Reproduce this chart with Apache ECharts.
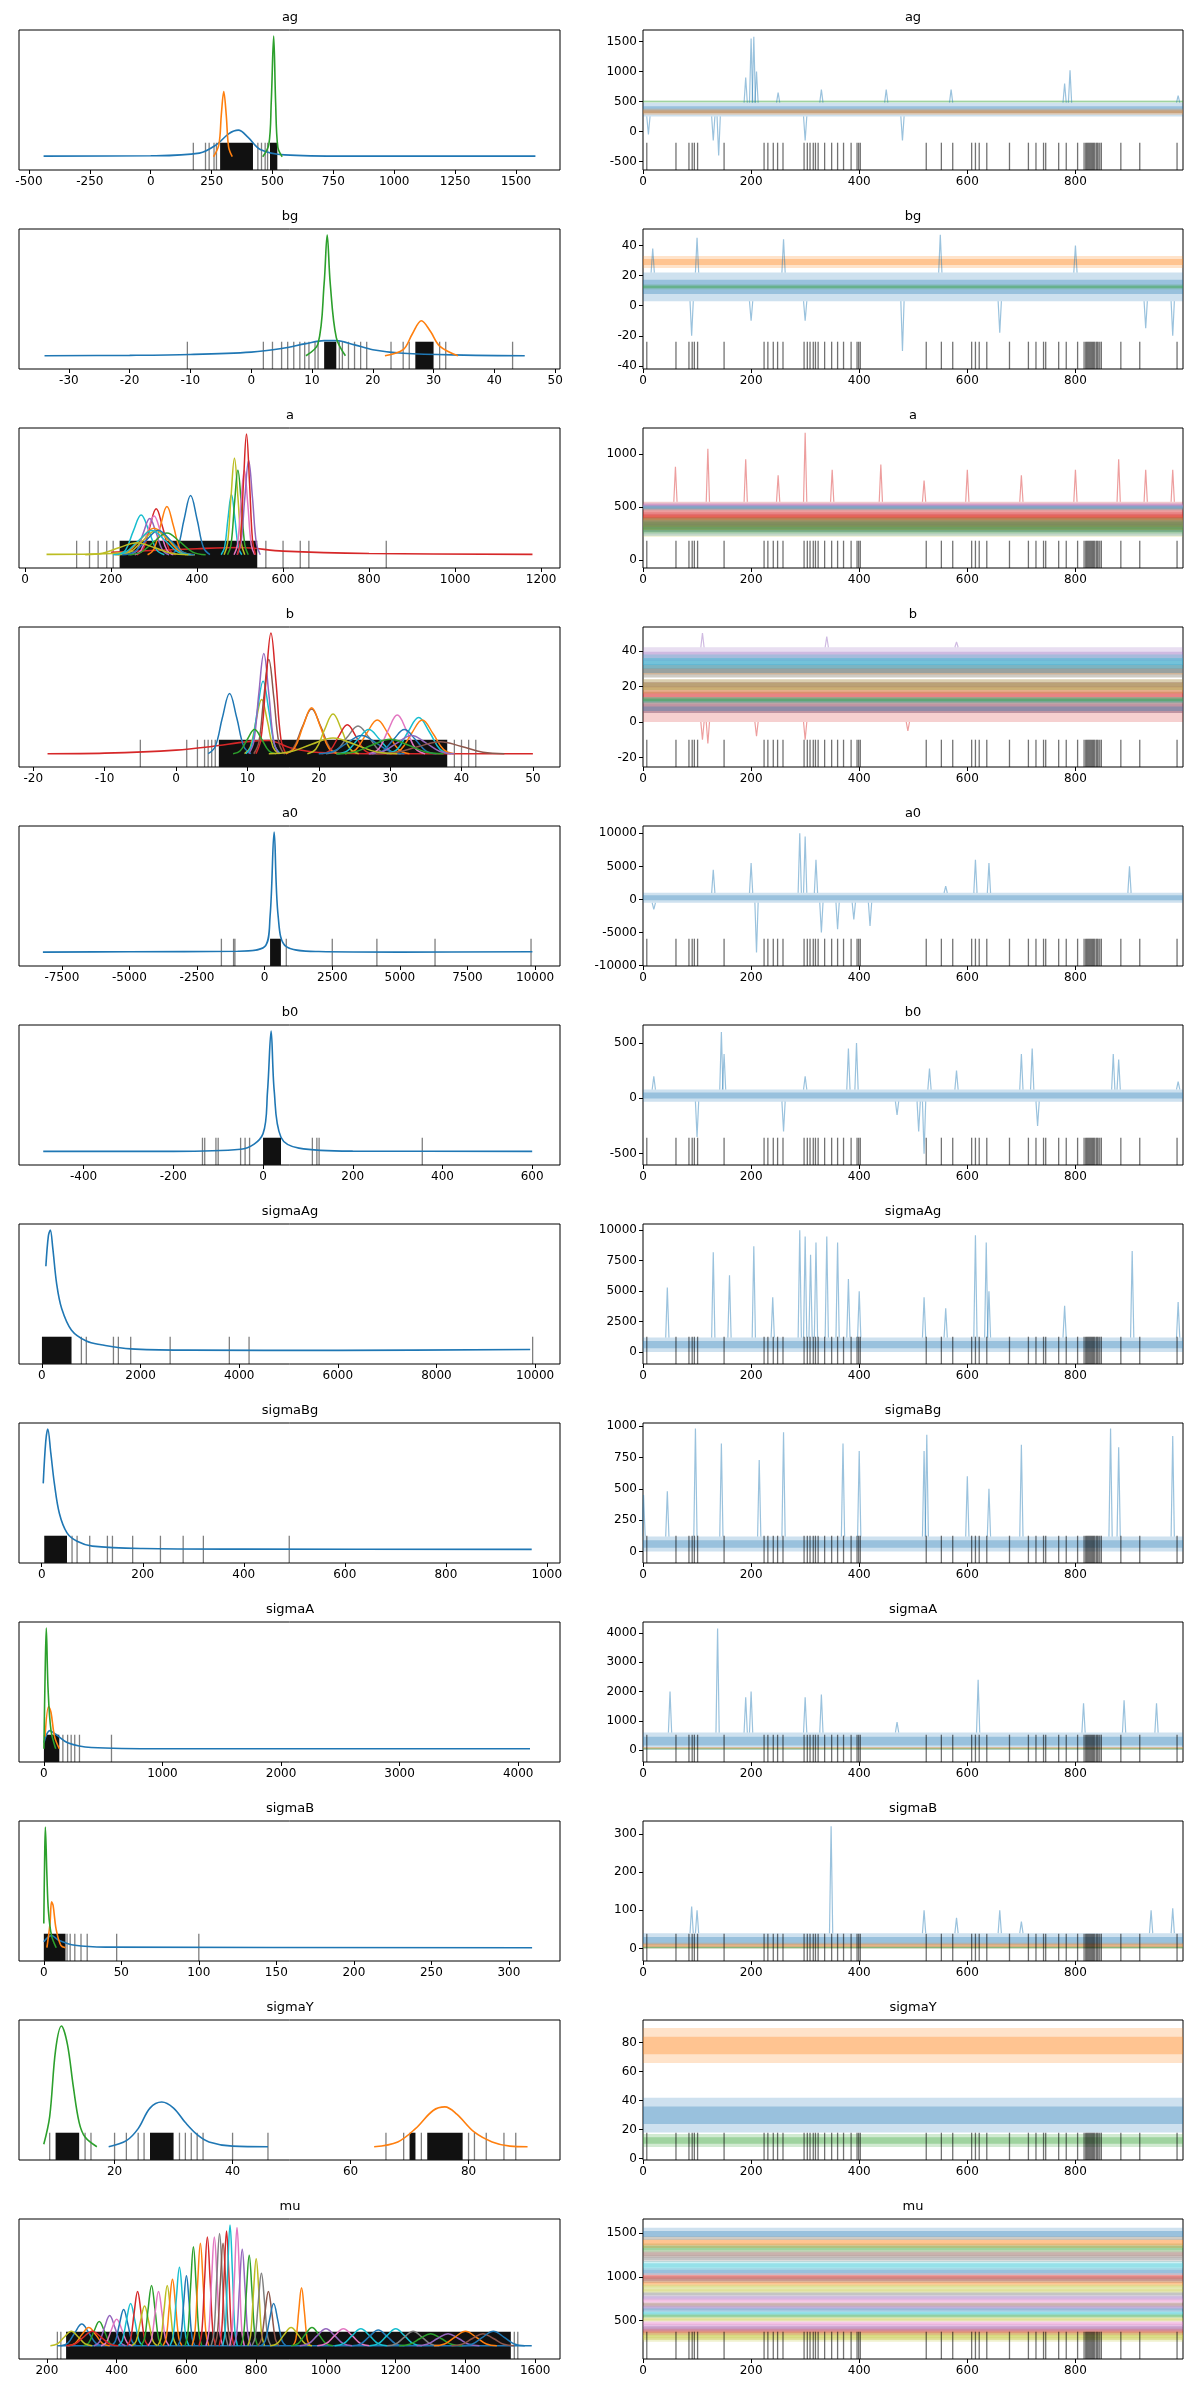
<!DOCTYPE html>
<html><head><meta charset="utf-8">
<script src="https://cdn.jsdelivr.net/npm/echarts@6/dist/echarts.min.js"></script>
<style>html,body{margin:0;padding:0;background:#fff}#c{width:1187px;height:2390px}</style>
</head><body><div id="c"></div>
<script>
const C = ['#1f77b4','#ff7f0e','#2ca02c','#d62728','#9467bd','#8c564b','#e377c2','#7f7f7f','#bcbd22','#17becf'];
const names = ['ag','bg','a','b','a0','b0','sigmaAg','sigmaBg','sigmaA','sigmaB','sigmaY','mu'];
const divergences = [7,61,85,91,95,101,150,224,231,241,249,259,298,304,309,315,319,324,336,349,360,371,385,396,399,402,524,552,573,608,615,622,636,678,713,727,741,745,769,783,804,816,819,821,823,825,827,829,831,833,835,838,840,842,845,848,884,919,988];
const traceTicks = [0,200,400,600,800];

const agKde = [[0,[[-440,0.005],[0,0.008],[200,0.03],[270,0.1],[320,0.19],[360,0.22],[400,0.16],[450,0.06],[550,0.015],[800,0.005],[1580,0.005]]],
  [1,[[258,0],[280,0.1],[290,0.35],[300,0.54],[310,0.35],[320,0.08],[335,0]]],
  [2,[[460,0],[485,0.1],[495,0.45],[505,1],[513,0.45],[522,0.08],[540,0]]]];
const agRugBlocks = [[285,420],[490,520]];
const agRug = [175,225,240,260,270,440,455,470,480];
const bgKde = [[0,[[-34,0],[-20,0.003],[-10,0.01],[0,0.03],[5,0.06],[9,0.1],[12,0.125],[14,0.125],[17,0.09],[20,0.05],[25,0.02],[35,0.005],[45,0]]],
  [2,[[9,0],[11,0.1],[12,0.6],[12.5,1],[13,0.6],[14,0.15],[15.5,0]]],
  [1,[[22,0],[25,0.05],[26.5,0.18],[28,0.29],[29.5,0.2],[31,0.08],[34,0]]]];
const bgRugBlocks = [[12,14],[27,30]];
const bgRug = [-10.5,2,3.5,5,6,7,8,8.8,9.5,10.5,11,14.5,15,16,17,18,19,23,25,26,31,32,43];
const aPeaks = [[0,385,0.49,15],[9,270,0.33,18],[3,305,0.38,15],[1,330,0.4,15],[6,300,0.32,15],[4,290,0.3,15],
  [1,300,0.22,30],[8,305,0.2,30],[2,330,0.18,30],[0,310,0.2,28],[9,295,0.2,30],[8,260,0.1,40],
  [9,480,0.5,8],[8,487,0.8,8],[2,495,0.7,8],[6,510,0.7,8],[4,520,0.78,9],[3,515,1.0,7]];
const aKde = [[3,[[200,0.02],[400,0.05],[500,0.06],[600,0.03],[800,0.01],[1180,0.003]]],[8,[[50,0.003],[200,0.01],[250,0.03]]]];
const aRugBlocks = [[220,540]];
const aRug = [120,150,170,190,205,560,600,640,660,840];
const bPeaks = [[0,7.5,0.5,1],[8,12,0.45,0.8],[9,12.2,0.6,0.8],[4,12.3,0.83,0.7],[5,13,0.78,0.7],[3,13.3,1.0,0.7],[2,11,0.2,1],
  [5,19,0.37,1.3],[1,19,0.38,1.2],[8,22,0.33,1.2],[7,25.5,0.23,1.5],[3,24,0.24,1.2],[1,28.2,0.28,1.5],[9,27,0.2,1.5],[0,26,0.15,2],
  [6,31,0.32,1.3],[9,34,0.3,1.5],[1,34.5,0.28,1.5],[0,32,0.2,1.5],[4,33,0.15,2],[5,37,0.1,3],[8,22,0.13,3],[2,30,0.12,2.5]];
const bKde = [[3,[[-18,0],[-10,0.005],[0,0.03],[5,0.06],[10,0.1],[13,0.11],[16,0.05],[20,0.01],[30,0],[50,0]]]];
const bRugBlocks = [[6,38]];
const bRug = [-5,1.5,3,4,4.5,5,5.5,39,40,41,42];
const a0Kde = [[0,[[-8200,0.005],[-5000,0.008],[-1000,0.012],[0,0.05],[200,0.3],[350,1.0],[500,0.3],[800,0.05],[2000,0.01],[5000,0.005],[9900,0.008]]]];
const a0RugBlocks = [[200,600]];
const a0Rug = [-1600,-1150,-1100,800,2500,4150,6300,9850];
const b0Kde = [[0,[[-490,0.003],[-200,0.003],[-50,0.02],[0,0.15],[10,0.5],[18,1.0],[25,0.5],[40,0.12],[80,0.03],[200,0.005],[600,0.003]]]];
const b0RugBlocks = [[0,40]];
const b0Rug = [-135,-130,-105,-100,-50,-40,-30,110,120,125,355];
const sigmaAgKde = [[0,[[80,0.7],[130,0.95],[170,1.0],[220,0.85],[300,0.55],[400,0.35],[600,0.17],[900,0.08],[1200,0.05],[1800,0.015],[3000,0.005],[6000,0.003],[9900,0.01]]]];
const sigmaAgRugBlocks = [[0,600]];
const sigmaAgRug = [800,900,1450,1550,1800,2600,3800,4200,9950];
const sigmaBgKde = [[0,[[3,0.55],[8,0.9],[12,1.0],[18,0.8],[25,0.55],[35,0.3],[50,0.14],[70,0.07],[100,0.03],[200,0.01],[400,0.005],[970,0.003]]]];
const sigmaBgRugBlocks = [[5,50]];
const sigmaBgRug = [60,70,95,130,140,180,235,280,320,490];
const sigmaAKde = [[0,[[0,0.05],[50,0.15],[100,0.12],[200,0.05],[400,0.01],[1000,0],[4100,0]]],
  [1,[[10,0.1],[40,0.35],[60,0.3],[90,0.1],[130,0]]],
  [2,[[0,0],[10,0.6],[20,1.0],[35,0.5],[60,0.15],[100,0]]]];
const sigmaARugBlocks = [[0,130]];
const sigmaARug = [160,200,230,260,300,570];
const sigmaBKde = [[0,[[0,0.05],[5,0.1],[10,0.06],[20,0.02],[40,0.005],[315,0]]],
  [1,[[2,0],[4,0.2],[5,0.38],[6,0.35],[8,0.15],[11,0.02],[14,0]]],
  [2,[[0,0.2],[0.5,0.7],[1,1.0],[2,0.6],[3,0.3],[5,0.1],[8,0]]]];
const sigmaBRugBlocks = [[0,14]];
const sigmaBRug = [15,17,20,24,28,47,100];
const sigmaYKde = [[2,[[8,0.02],[9,0.25],[10,0.8],[11,1.0],[12,0.85],[13,0.5],[14,0.2],[15,0.08],[17,0]]],
  [0,[[19,0],[22,0.05],[24,0.15],[26,0.32],[28,0.37],[30,0.32],[32,0.2],[34,0.1],[36,0.04],[40,0.005],[46,0]]],
  [1,[[64,0],[68,0.04],[71,0.15],[74,0.3],[76,0.33],[78,0.27],[81,0.12],[84,0.04],[87,0.005],[90,0]]]];
const sigmaYRugBlocks = [[10,14],[26,30],[70,71],[73,79]];
const sigmaYRug = [9,15,16,20,22,24,25,31,32,33,34,35,40,46,66,69,72,80,81,83,86,88];
const muPeaks = [[0,300,0.18,20],[1,320,0.15,20],[2,350,0.2,15],[4,380,0.25,15],[6,400,0.22,15],[0,420,0.3,12],[9,440,0.35,12],[3,460,0.45,10],
  [8,480,0.33,12],[2,500,0.5,10],[6,520,0.45,10],[8,545,0.5,9],[1,560,0.55,9],[9,580,0.65,9],[0,600,0.58,8],[2,620,0.82,8],[1,640,0.85,8],
  [3,660,0.9,8],[6,680,0.9,8],[7,695,0.93,8],[5,705,0.85,8],[3,715,0.95,7],[9,725,1.0,7],[6,745,0.98,7],[4,760,0.8,8],[2,780,0.75,8],
  [8,800,0.72,8],[7,815,0.6,9],[5,835,0.45,10],[0,850,0.35,12],[1,930,0.48,8],[8,900,0.15,20],[2,960,0.15,20],[4,1000,0.14,25],
  [6,1050,0.14,25],[9,1100,0.14,25],[0,1150,0.13,25],[9,1200,0.14,25],[7,1250,0.12,25],[2,1300,0.1,30],[4,1350,0.1,30],[1,1400,0.12,30],
  [5,1450,0.1,30],[0,1480,0.12,30],[8,270,0.12,20],[3,330,0.12,25]];
const muKde = [[0,[[230,0],[1590,0]]]];
const muRugBlocks = [[255,1530]];
const muRug = [230,240,1540,1550];
const bellShape = [[-3,0],[-2,0.12],[-1,0.6],[0,1],[1,0.6],[2,0.12],[3,0]];

const agBands = [[0,250,480],[1,280,380],[2,480,520]];
const agSpikes = [[0,200,1550],[0,205,1580],[0,190,900],[0,210,1000],[0,140,-400],[0,130,-150],[0,300,-150],[0,480,-150],[0,790,1020],[0,780,800],[0,450,700],[0,570,700],[0,250,650],[0,990,600],[0,10,-50],[0,330,700]];
const bgBands = [[1,25,33],[0,3,22],[2,11,14]];
const bgSpikes = [[0,18,38],[0,100,45],[0,260,44],[0,480,-30],[0,90,-20],[0,660,-18],[0,980,-20],[0,550,47],[0,800,40],[0,930,-15],[0,200,-10],[0,300,-10]];
const aBands = [[3,330,550],[8,220,400],[0,230,380],[1,280,420],[2,250,400],[7,300,400],[3,380,450],[4,480,540],[6,490,530],[9,470,520]];
const aSpikes = [[3,300,1200],[3,120,1050],[3,190,950],[3,440,900],[3,600,850],[3,800,850],[3,930,850],[3,60,880],[3,250,800],[3,350,850],[3,520,750],[3,700,800],[3,980,850],[3,880,950]];
const bBands = [[3,0,20],[0,5,10],[9,10,14],[2,11,14],[3,14,18],[8,16,24],[5,18,24],[1,25,32],[0,25,35],[4,32,42],[9,30,38]];
const bSpikes = [[3,110,-10],[3,210,-8],[3,300,-10],[3,490,-5],[3,120,-12],[4,110,50],[4,340,48],[4,580,45]];
const a0Bands = [[0,-500,1000]];
const a0Spikes = [[0,290,10000],[0,300,9500],[0,320,6000],[0,130,4500],[0,200,5500],[0,210,-8000],[0,330,-5000],[0,360,-4500],[0,420,-4000],[0,390,-3000],[0,615,6000],[0,640,5500],[0,900,5000],[0,560,2000],[0,20,-1500]];
const b0Bands = [[0,-30,80]];
const b0Spikes = [[0,145,600],[0,150,400],[0,100,-350],[0,395,500],[0,380,450],[0,520,-500],[0,510,-300],[0,720,450],[0,700,400],[0,870,400],[0,880,350],[0,20,200],[0,300,200],[0,530,270],[0,580,250],[0,730,-250],[0,260,-300],[0,470,-150],[0,990,150]];
const sigmaAgBands = [[0,0,1200]];
const sigmaAgSpikes = [[0,290,10000],[0,300,9500],[0,320,9000],[0,340,9500],[0,360,9000],[0,310,8000],[0,380,6000],[0,400,5000],[0,130,8200],[0,205,8700],[0,615,9600],[0,635,9000],[0,905,8300],[0,160,6300],[0,45,5300],[0,240,4500],[0,520,4500],[0,560,3600],[0,780,3800],[0,990,4100],[0,640,5000]];
const sigmaBgBands = [[0,0,120]];
const sigmaBgSpikes = [[0,97,980],[0,145,860],[0,260,950],[0,525,930],[0,865,980],[0,880,830],[0,980,920],[0,700,850],[0,370,860],[0,400,800],[0,215,730],[0,600,600],[0,520,800],[0,640,500],[0,1,450],[0,45,480]];
const sigmaABands = [[0,0,600],[1,30,100],[2,20,60]];
const sigmaASpikes = [[0,138,4150],[0,200,2000],[0,190,1800],[0,330,1900],[0,300,1800],[0,620,2400],[0,50,2000],[0,815,1600],[0,890,1700],[0,950,1600],[0,470,950]];
const sigmaBBands = [[0,0,40],[1,0,15],[2,0,5]];
const sigmaBSpikes = [[0,348,320],[0,90,110],[0,100,100],[0,520,100],[0,660,100],[0,940,100],[0,980,105],[0,580,80],[0,700,70]];
const sigmaYBands = [[1,66,90],[0,18,42],[2,8,17]];
const sigmaYSpikes = [];
const muBands = [[8,260,340],[8,300,390],[3,340,430],[4,380,460],[6,430,500],[8,490,540],[2,530,580],[9,560,610],[0,600,650],[4,630,680],[5,660,710],[6,700,760],[4,740,790],[7,780,830],[8,820,870],[8,860,920],[1,900,960],[5,930,1010],[3,960,1040],[0,1020,1100],[9,1080,1180],[7,1170,1250],[5,1220,1300],[2,1280,1380],[1,1330,1460],[0,1420,1560]];
const muSpikes = [];

const leftX = [[-541,1681,[-500,-250,0,250,500,750,1000,1250,1500]],[-38.2,50.8,[-30,-20,-10,0,10,20,30,40,50]],[-14,1244,[0,200,400,600,800,1000,1200]],
 [-22,53.8,[-20,-10,0,10,20,30,40,50]],[-9084,10921,[-7500,-5000,-2500,0,2500,5000,7500,10000]],[-544,662,[-400,-200,0,200,400,600]],
 [-465,10505,[0,2000,4000,6000,8000,10000]],[-45,1026,[0,200,400,600,800,1000]],[-210,4353,[0,1000,2000,3000,4000]],
 [-16,333,[0,50,100,150,200,250,300]],[3.8,95.5,[20,40,60,80]],[120,1671,[200,400,600,800,1000,1200,1400,1600]]];
const rightY = [[-644,1694,[-500,0,500,1000,1500]],[-42,50.9,[-40,-20,0,20,40]],[-75,1245,[0,500,1000]],[-25.3,53.4,[-20,0,20,40]],
 [-10050,11100,[-10000,-5000,0,5000,10000]],[-603,663,[-500,0,500]],[-984,10519,[0,2500,5000,7500,10000]],[-91,1024,[0,250,500,750,1000]],
 [-410,4376,[0,1000,2000,3000,4000]],[-33,334,[0,100,200,300]],[-0.9,95.6,[0,20,40,60,80]],[62,1661,[500,1000,1500]]];

const kde = {ag:agKde,bg:bgKde,a:aKde,b:bKde,a0:a0Kde,b0:b0Kde,sigmaAg:sigmaAgKde,sigmaBg:sigmaBgKde,sigmaA:sigmaAKde,sigmaB:sigmaBKde,sigmaY:sigmaYKde,mu:muKde};
const peaks = {a:aPeaks,b:bPeaks,mu:muPeaks};
const rugBlocks = {ag:agRugBlocks,bg:bgRugBlocks,a:aRugBlocks,b:bRugBlocks,a0:a0RugBlocks,b0:b0RugBlocks,sigmaAg:sigmaAgRugBlocks,sigmaBg:sigmaBgRugBlocks,sigmaA:sigmaARugBlocks,sigmaB:sigmaBRugBlocks,sigmaY:sigmaYRugBlocks,mu:muRugBlocks};
const rugs = {ag:agRug,bg:bgRug,a:aRug,b:bRug,a0:a0Rug,b0:b0Rug,sigmaAg:sigmaAgRug,sigmaBg:sigmaBgRug,sigmaA:sigmaARug,sigmaB:sigmaBRug,sigmaY:sigmaYRug,mu:muRug};
const bands = {ag:agBands,bg:bgBands,a:aBands,b:bBands,a0:a0Bands,b0:b0Bands,sigmaAg:sigmaAgBands,sigmaBg:sigmaBgBands,sigmaA:sigmaABands,sigmaB:sigmaBBands,sigmaY:sigmaYBands,mu:muBands};
const spikes = {ag:agSpikes,bg:bgSpikes,a:aSpikes,b:bSpikes,a0:a0Spikes,b0:b0Spikes,sigmaAg:sigmaAgSpikes,sigmaBg:sigmaBgSpikes,sigmaA:sigmaASpikes,sigmaB:sigmaBSpikes,sigmaY:sigmaYSpikes,mu:muSpikes};

const FONT = 'DejaVu Sans';
const grids=[], xAxes=[], yAxes=[], series=[], graphics=[];
const RUG_TOP = 0.116, Y_MIN = -0.11;
const fmt = v => String(v);
const noLine = {show:false, onZero:false};
names.forEach((nm, r) => {
  const top = 30 + 199*r;
  const gl = grids.length;
  grids.push({left:19, top, width:541, height:140, show:true, borderColor:'#000', borderWidth:1, backgroundColor:'transparent'});
  grids.push({left:643, top, width:540, height:140, show:true, borderColor:'#000', borderWidth:1, backgroundColor:'transparent'});
  const lx = leftX[r], ry = rightY[r];
  const lab = {fontFamily:FONT, fontSize:12, color:'#000', margin:6, formatter:fmt};
  const tick = vals => ({show:true, length:4, lineStyle:{color:'#000'}, customValues:vals});
  xAxes.push({gridIndex:gl, type:'value', min:lx[0], max:lx[1], axisLine:noLine, splitLine:{show:false}, minorTick:{show:false},
    axisTick:tick(lx[2]), axisLabel:Object.assign({customValues:lx[2]}, lab)});
  xAxes.push({gridIndex:gl+1, type:'value', min:0, max:999, axisLine:noLine, splitLine:{show:false}, minorTick:{show:false},
    axisTick:tick(traceTicks), axisLabel:Object.assign({customValues:traceTicks}, lab)});
  const yl = yAxes.length;
  yAxes.push({gridIndex:gl, type:'value', min:Y_MIN, max:1.05, show:false, axisLine:noLine});
  yAxes.push({gridIndex:gl+1, type:'value', min:ry[0], max:ry[1], axisLine:noLine, splitLine:{show:false},
    axisTick:tick(ry[2]), axisLabel:Object.assign({customValues:ry[2]}, lab)});
  yAxes.push({gridIndex:gl+1, type:'value', min:0, max:1, show:false, axisLine:noLine});
  const xl = gl, xr = gl+1;
  graphics.push({type:'text', x:290, y:top-6, style:{text:nm, font:'13px '+FONT, fill:'#000', textAlign:'center', textVerticalAlign:'bottom'}});
  graphics.push({type:'text', x:913, y:top-6, style:{text:nm, font:'13px '+FONT, fill:'#000', textAlign:'center', textVerticalAlign:'bottom'}});
  series.push({type:'custom', xAxisIndex:xl, yAxisIndex:yl, silent:true, z:1, clip:true, data:rugBlocks[nm],
    renderItem:(p, api) => { const a = api.coord([api.value(0), RUG_TOP]), b = api.coord([api.value(1), Y_MIN]);
      return {type:'rect', shape:{x:a[0], y:a[1], width:Math.max(1,b[0]-a[0]), height:b[1]-a[1]}, style:{fill:'#111'}}; }});
  series.push({type:'custom', xAxisIndex:xl, yAxisIndex:yl, silent:true, z:1, clip:true, data:rugs[nm].map(v=>[v]),
    renderItem:(p, api) => { const a = api.coord([api.value(0), RUG_TOP]), b = api.coord([api.value(0), Y_MIN]);
      return {type:'line', shape:{x1:a[0], y1:a[1], x2:b[0], y2:b[1]}, style:{stroke:'rgba(0,0,0,0.5)', lineWidth:1.3}}; }});
  kde[nm].forEach(([ci, pts]) => series.push({type:'line', xAxisIndex:xl, yAxisIndex:yl, data:pts, smooth:0.35, showSymbol:false, silent:true, z:3,
    lineStyle:{color:C[ci], width:1.6}}));
  (peaks[nm]||[]).forEach(([ci, c, h, w]) => series.push({type:'line', xAxisIndex:xl, yAxisIndex:yl, smooth:0.4, showSymbol:false, silent:true, z:3,
    data:bellShape.map(([k, f]) => [c + k*w, f*h]), lineStyle:{color:C[ci], width:1.5}}));
  series.push({type:'custom', xAxisIndex:xr, yAxisIndex:yl+1, silent:true, z:2, clip:true, data:bands[nm],
    renderItem:(p, api) => { const ci = api.value(0); const a = api.coord([0, api.value(2)]), b = api.coord([999, api.value(1)]);
      const h = b[1]-a[1];
      return {type:'group', children:[
        {type:'rect', shape:{x:a[0], y:a[1], width:b[0]-a[0], height:h}, style:{fill:C[ci], opacity:0.22}},
        {type:'rect', shape:{x:a[0], y:a[1]+h*0.25, width:b[0]-a[0], height:h*0.5}, style:{fill:C[ci], opacity:0.3}}]}; }});
  spikes[nm].forEach(([ci, it, v]) => {
    const bd = bands[nm].find(b => b[0]===ci) || bands[nm][0];
    const base = v > bd[2] ? bd[2] : bd[1];
    series.push({type:'line', xAxisIndex:xr, yAxisIndex:yl+1, showSymbol:false, silent:true, z:2,
      data:[[it-3, base],[it, v],[it+3, base]], lineStyle:{color:C[ci], width:1.2, opacity:0.45}});
  });
  series.push({type:'custom', xAxisIndex:xr, yAxisIndex:yl+2, silent:true, z:4, clip:true, data:divergences.map(v=>[v]),
    renderItem:(p, api) => { const a = api.coord([api.value(0), 0.195]), b = api.coord([api.value(0), 0]);
      return {type:'line', shape:{x1:a[0], y1:a[1], x2:b[0], y2:b[1]}, style:{stroke:'rgba(0,0,0,0.55)', lineWidth:1.3}}; }});
});
const chart = echarts.init(document.getElementById('c'), null, {renderer:'canvas'});
chart.setOption({animation:false, backgroundColor:'#fff', grid:grids, xAxis:xAxes, yAxis:yAxes, series, graphic:graphics});
</script></body></html>
